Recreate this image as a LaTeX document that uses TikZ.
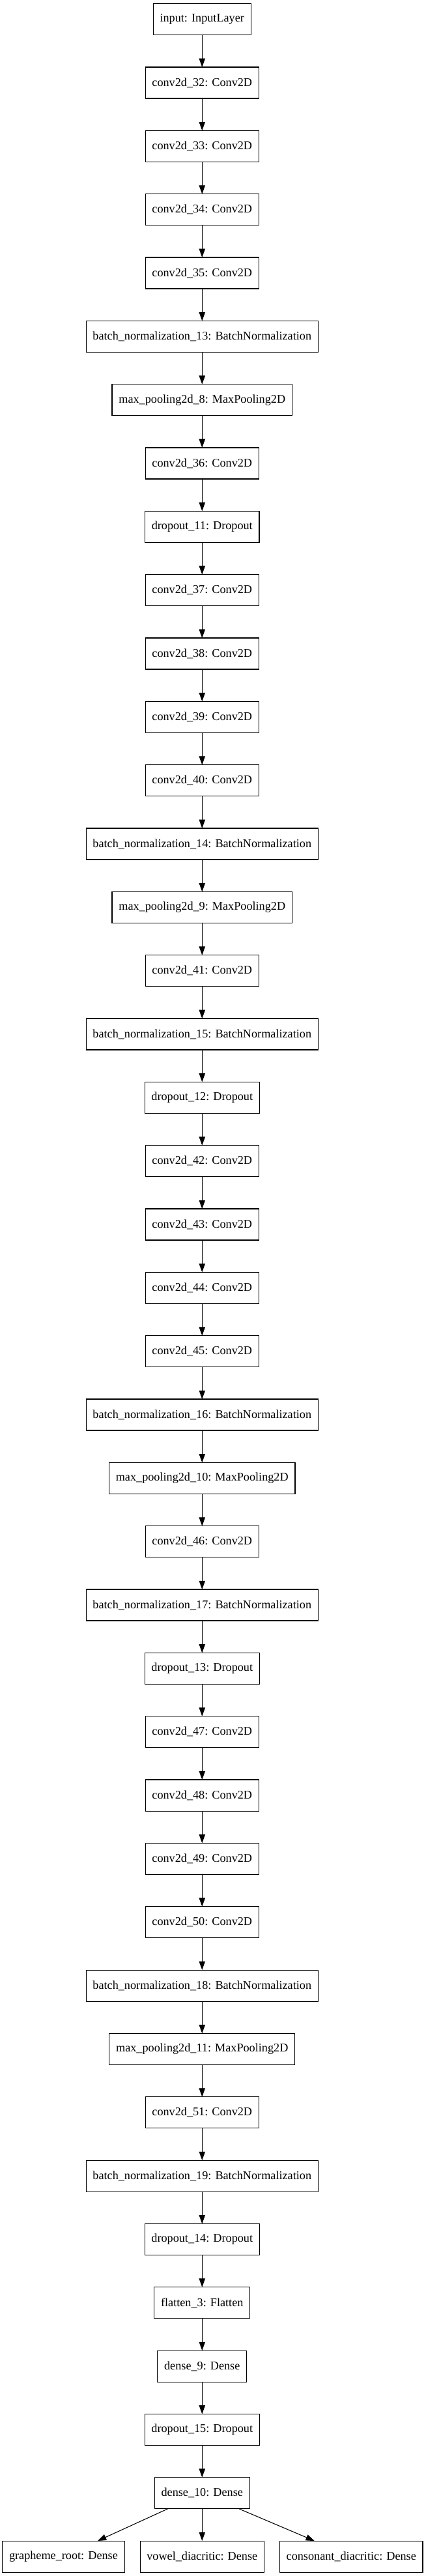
\documentclass[tikz,border=0pt]{standalone}
\usepackage{fontspec}
\setmainfont{Liberation Serif}
\usepackage{tikz}
\usetikzlibrary{positioning}
\usetikzlibrary{arrows.meta}
\tikzstyle{layer}=[draw,rectangle,line width=0.9pt,fill=white,minimum height=36pt, inner xsep=7.7pt, outer sep=0pt, font=\fontsize{13.65pt}{16pt}\selectfont]

\begin{document}
\begin{tikzpicture}[node distance=37pt, >={Triangle[length=10pt,width=7pt]}, line width=0.8pt]
    \useasboundingbox (0,0) rectangle (489.75pt,-2964.75pt);
    \node [layer] (in)            at (232.7pt,-22.3pt) {input: InputLayer};
    \node [layer, below=of in]    (c32)  {conv2d\_32: Conv2D};
    \node [layer, below=of c32]   (c33)  {conv2d\_33: Conv2D};
    \node [layer, below=of c33]   (c34)  {conv2d\_34: Conv2D};
    \node [layer, below=of c34]   (c35)  {conv2d\_35: Conv2D};
    \node [layer, below=of c35]   (bn13) {batch\_normalization\_13: BatchNormalization};
    \node [layer, below=of bn13]  (mp8)  {max\_pooling2d\_8: MaxPooling2D};
    \node [layer, below=of mp8]   (c36)  {conv2d\_36: Conv2D};
    \node [layer, below=of c36]   (do11) {dropout\_11: Dropout};
    \node [layer, below=of do11]  (c37)  {conv2d\_37: Conv2D};
    \node [layer, below=of c37]   (c38)  {conv2d\_38: Conv2D};
    \node [layer, below=of c38]   (c39)  {conv2d\_39: Conv2D};
    \node [layer, below=of c39]   (c40)  {conv2d\_40: Conv2D};
    \node [layer, below=of c40]   (bn14) {batch\_normalization\_14: BatchNormalization};
    \node [layer, below=of bn14]  (mp9)  {max\_pooling2d\_9: MaxPooling2D};
    \node [layer, below=of mp9]   (c41)  {conv2d\_41: Conv2D};
    \node [layer, below=of c41]   (bn15) {batch\_normalization\_15: BatchNormalization};
    \node [layer, below=of bn15]  (do12) {dropout\_12: Dropout};
    \node [layer, below=of do12]  (c42)  {conv2d\_42: Conv2D};
    \node [layer, below=of c42]   (c43)  {conv2d\_43: Conv2D};
    \node [layer, below=of c43]   (c44)  {conv2d\_44: Conv2D};
    \node [layer, below=of c44]   (c45)  {conv2d\_45: Conv2D};
    \node [layer, below=of c45]   (bn16) {batch\_normalization\_16: BatchNormalization};
    \node [layer, below=of bn16]  (mp10) {max\_pooling2d\_10: MaxPooling2D};
    \node [layer, below=of mp10]  (c46)  {conv2d\_46: Conv2D};
    \node [layer, below=of c46]   (bn17) {batch\_normalization\_17: BatchNormalization};
    \node [layer, below=of bn17]  (do13) {dropout\_13: Dropout};
    \node [layer, below=of do13]  (c47)  {conv2d\_47: Conv2D};
    \node [layer, below=of c47]   (c48)  {conv2d\_48: Conv2D};
    \node [layer, below=of c48]   (c49)  {conv2d\_49: Conv2D};
    \node [layer, below=of c49]   (c50)  {conv2d\_50: Conv2D};
    \node [layer, below=of c50]   (bn18) {batch\_normalization\_18: BatchNormalization};
    \node [layer, below=of bn18]  (mp11) {max\_pooling2d\_11: MaxPooling2D};
    \node [layer, below=of mp11]  (c51)  {conv2d\_51: Conv2D};
    \node [layer, below=of c51]   (bn19) {batch\_normalization\_19: BatchNormalization};
    \node [layer, below=of bn19]  (do14) {dropout\_14: Dropout};
    \node [layer, below=of do14]  (fl3)  {flatten\_3: Flatten};
    \node [layer, below=of fl3]   (d9)   {dense\_9: Dense};
    \node [layer, below=of d9]    (do15) {dropout\_15: Dropout};
    \node [layer, below=of do15]  (d10)  {dense\_10: Dense};
    % three heads
    \node [layer, below=of d10]        (vw) {vowel\_diacritic: Dense};
    \node [layer, left=18pt of vw]     (gr) {grapheme\_root: Dense};
    \node [layer, right=18pt of vw]    (cn) {consonant\_diacritic: Dense};

    \path [->] (in) edge (c32)
               (c32) edge (c33)
               (c33) edge (c34)
               (c34) edge (c35)
               (c35) edge (bn13)
               (bn13) edge (mp8)
               (mp8) edge (c36)
               (c36) edge (do11)
               (do11) edge (c37)
               (c37) edge (c38)
               (c38) edge (c39)
               (c39) edge (c40)
               (c40) edge (bn14)
               (bn14) edge (mp9)
               (mp9) edge (c41)
               (c41) edge (bn15)
               (bn15) edge (do12)
               (do12) edge (c42)
               (c42) edge (c43)
               (c43) edge (c44)
               (c44) edge (c45)
               (c45) edge (bn16)
               (bn16) edge (mp10)
               (mp10) edge (c46)
               (c46) edge (bn17)
               (bn17) edge (do13)
               (do13) edge (c47)
               (c47) edge (c48)
               (c48) edge (c49)
               (c49) edge (c50)
               (c50) edge (bn18)
               (bn18) edge (mp11)
               (mp11) edge (c51)
               (c51) edge (bn19)
               (bn19) edge (do14)
               (do14) edge (fl3)
               (fl3) edge (d9)
               (d9) edge (do15)
               (do15) edge (d10);
    \path [->] (d10) edge (gr)
                     edge (vw)
                     edge (cn);
\end{tikzpicture}
\end{document}
